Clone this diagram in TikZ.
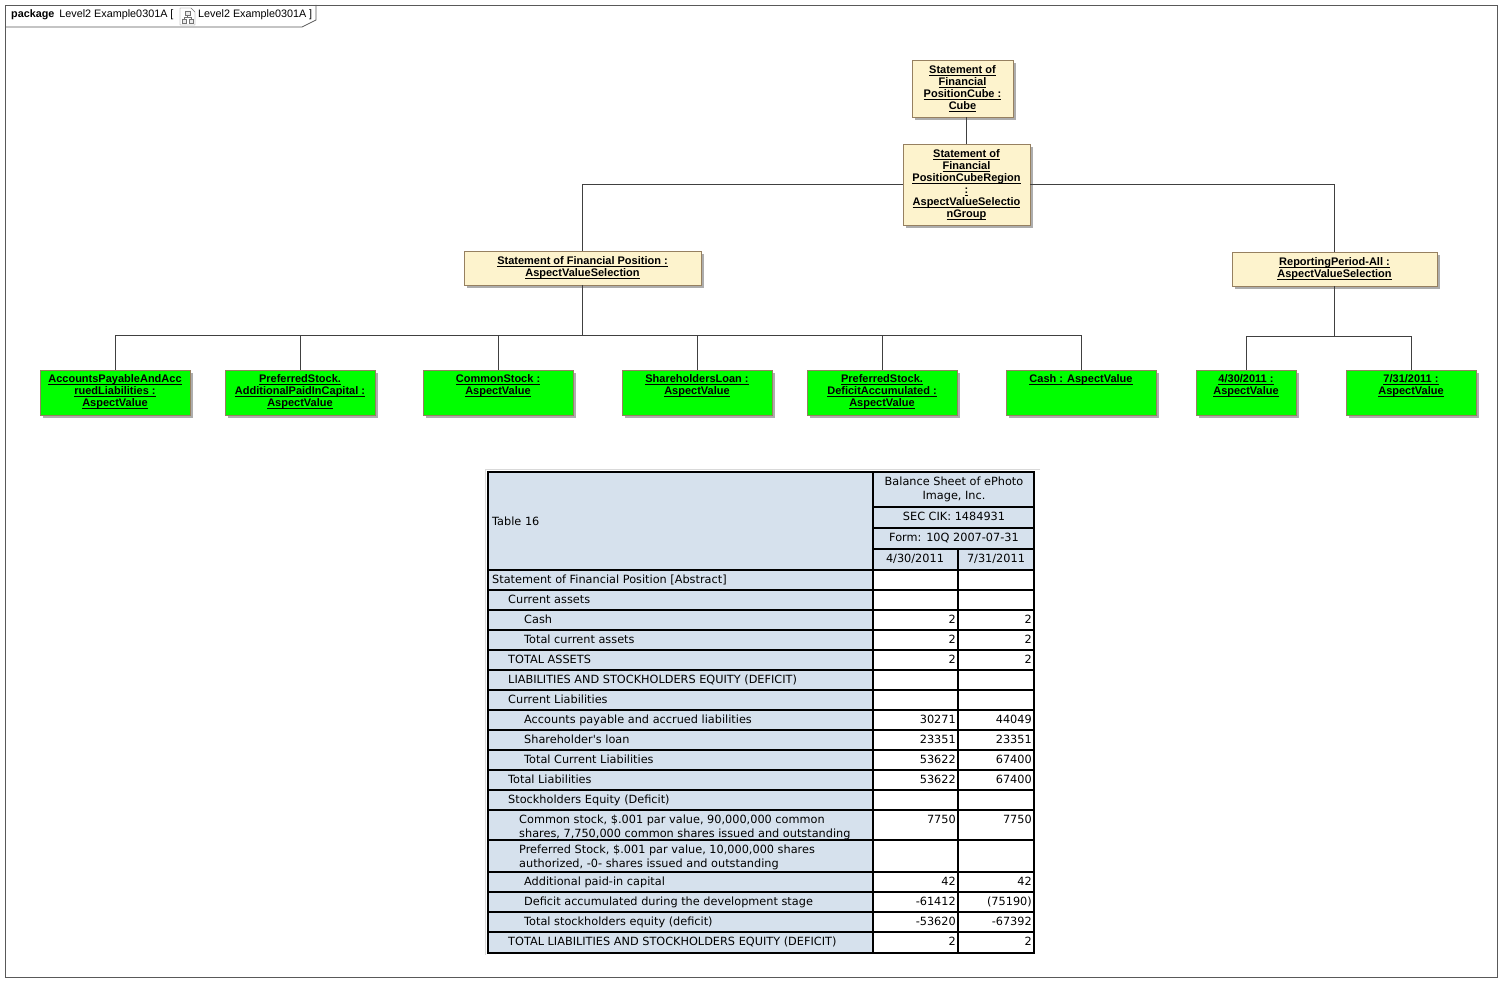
\documentclass[tikz,border=0pt]{standalone}
\usepackage{fontspec}
\setmainfont{Liberation Sans}
\newfontfamily\tablefont{DejaVu Sans}
\usepackage{tikz}
\usetikzlibrary{shadows}
\definecolor{noteyellow}{RGB}{253,243,205}
\definecolor{valuegreen}{RGB}{0,255,0}
\definecolor{boxedge}{RGB}{150,128,96}
\definecolor{cellblue}{RGB}{214,225,237}
\definecolor{linkgrey}{RGB}{64,64,64}
\newsavebox\ulbox
\newcommand{\ul}[1]{\leavevmode\sbox\ulbox{#1}\rlap{\rule[-2pt]{\wd\ulbox}{0.8pt}}\usebox\ulbox}
\newcommand{\gtext}[2][146pt]{\parbox[t][35pt][t]{#1}{\centering #2}}

\begin{document}
\begin{tikzpicture}[
  x=1pt, y=-1pt,
  frame/.style={draw=black!65, line width=0.8pt},
  hdr/.style={font=\fontsize{10.8}{12}\selectfont, inner sep=0pt},
  ybox/.style={draw=boxedge, fill=noteyellow, align=center, inner sep=2pt,
               font=\fontsize{11}{12}\selectfont\bfseries,
               drop shadow={shadow xshift=3pt, shadow yshift=-3pt, fill=black!32, opacity=1}},
  gbox/.style={draw=boxedge, fill=valuegreen, inner sep=0pt, minimum height=45,
               font=\fontsize{11}{12}\selectfont\bfseries,
               drop shadow={shadow xshift=3pt, shadow yshift=-3pt, fill=black!32, opacity=1}},
  link/.style={draw=linkgrey, line width=0.9pt},
  grid/.style={draw=black, line width=2.4pt},
  cell/.style={inner sep=0pt, font=\tablefont\fontsize{11.3}{14}\selectfont}
]
\useasboundingbox (0,0) rectangle (1511,992);
\draw[frame] (5,5) rectangle (1497,977);
\draw[frame] (5,27) -- (302,27) -- (316,20) -- (316,5);
\node[hdr, anchor=base west] (pkg) at (11,18) {\textbf{package}\hspace{5pt}Level2 Example0301A [};
\draw[black!55, fill=white] (180,8) -- (191,8) -- (195,12) -- (195,25) -- (180,25) -- cycle;
\draw[black!55, fill=black!8] (185,11) rectangle (190,15) (182,19) rectangle (186,23) (189,19) rectangle (193,23);
\draw[black!55] (187.5,15) -- (187.5,17) (184,17) -- (191,17) (184,17) -- (184,19) (191,17) -- (191,19);
\node[hdr, anchor=base west] (diag) at (198,18) {Level2 Example0301A ]};

\node[ybox, minimum width=101, minimum height=57] (cube) at (962.5,88.5)
  {\ul{Statement of}\\\ul{Financial}\\\ul{PositionCube :}\\\ul{Cube}};
\node[ybox, minimum width=127, minimum height=81] (region) at (966.5,184.5)
  {\ul{Statement of}\\\ul{Financial}\\\ul{PositionCubeRegion}\\\ul{:}\\\ul{AspectValueSelectio}\\\ul{nGroup}};
\node[ybox, minimum width=237, minimum height=34] (sofp) at (582.5,268)
  {\ul{Statement of Financial Position :}\\\ul{AspectValueSelection}};
\node[ybox, minimum width=205, minimum height=34] (rp) at (1334.5,269)
  {\ul{ReportingPeriod-All :}\\\ul{AspectValueSelection}};

\node[gbox, minimum width=150] (ap) at (115,392.5)
  {\gtext{\ul{AccountsPayableAndAcc}\\\ul{ruedLiabilities :}\\\ul{AspectValue}}};
\node[gbox, minimum width=150] (apic) at (300,392.5)
  {\gtext{\ul{PreferredStock.}\\\ul{AdditionalPaidInCapital :}\\\ul{AspectValue}}};
\node[gbox, minimum width=150] (cs) at (498,392.5)
  {\gtext{\ul{CommonStock :}\\\ul{AspectValue}}};
\node[gbox, minimum width=150] (sl) at (697,392.5)
  {\gtext{\ul{ShareholdersLoan :}\\\ul{AspectValue}}};
\node[gbox, minimum width=150] (da) at (882,392.5)
  {\gtext{\ul{PreferredStock.}\\\ul{DeficitAccumulated :}\\\ul{AspectValue}}};
\node[gbox, minimum width=150] (cash) at (1081,392.5)
  {\gtext{\ul{Cash : AspectValue}}};
\node[gbox, minimum width=100] (d1) at (1246,392.5)
  {\gtext[96pt]{\ul{4/30/2011 :}\\\ul{AspectValue}}};
\node[gbox, minimum width=130] (d2) at (1411,392.5)
  {\gtext[126pt]{\ul{7/31/2011 :}\\\ul{AspectValue}}};

\draw[link] (region.north) -- (region.north |- cube.south);
\draw[link] (region.west) -| (sofp.north);
\draw[link] (region.east) -| (rp.north);
\foreach \n in {ap,apic,cs,sl,da,cash}
  \draw[link] (sofp.south) -- ++(0,50) -| (\n.north);
\foreach \n in {d1,d2}
  \draw[link] (rp.south) -- ++(0,50) -| (\n.north);

\draw[black!15] (1040,469) -- (485,469) -- (485,955);
\fill[cellblue] (488,472) rectangle (873,953);
\fill[cellblue] (873,472) rectangle (1034,570);
\fill[white] (873,570) rectangle (1034,953);
\foreach \ry in {570,590,610,630,650,670,690,710,730,750,770,790,810,840,872,892,912,932}
  \draw[grid] (488,\ry) -- (1034,\ry);
\foreach \ry in {507,528,549}
  \draw[grid] (873,\ry) -- (1034,\ry);
\draw[grid] (873,472) -- (873,953);
\draw[grid] (958,549) -- (958,953);
\draw[grid] (488,472) rectangle (1034,953);

\node[cell, anchor=base west] (tab) at (492,525) {Table 16};
\node[cell, anchor=base] (title) at (954,485)
  {\parbox[t]{150pt}{\centering Balance Sheet of ePhoto\\Image, Inc.}};
\node[cell, anchor=base] (cik) at (954,520) {SEC CIK: 1484931};
\node[cell, anchor=base] (form) at (954,541) {Form: 10Q 2007-07-31};
\node[cell, anchor=base] (p1) at (915,562) {4/30/2011};
\node[cell, anchor=base] (p2) at (996,562) {7/31/2011};

\foreach \ry/\ind/\lab/\va/\vb [count=\i] in {
  570/0/{Statement of Financial Position [Abstract]}//,
  590/16/{Current assets}//,
  610/32/{Cash}/2/2,
  630/32/{Total current assets}/2/2,
  650/16/{TOTAL ASSETS}/2/2,
  670/16/{LIABILITIES AND STOCKHOLDERS EQUITY (DEFICIT)}//,
  690/16/{Current Liabilities}//,
  710/32/{Accounts payable and accrued liabilities}/30271/44049,
  730/32/{Shareholder's loan}/23351/23351,
  750/32/{Total Current Liabilities}/53622/67400,
  770/16/{Total Liabilities}/53622/67400,
  790/16/{Stockholders Equity (Deficit)}//,
  810/27/{\parbox[t]{350pt}{Common stock, \$.001 par value, 90,000,000 common\\shares, 7,750,000 common shares issued and outstanding}}/7750/7750,
  840/27/{\parbox[t]{350pt}{Preferred Stock, \$.001 par value, 10,000,000 shares\\authorized, -0- shares issued and outstanding}}//,
  872/32/{Additional paid-in capital}/42/42,
  892/32/{Deficit accumulated during the development stage}/-61412/{(75190)\hspace{3pt}},
  912/32/{Total stockholders equity (deficit)}/-53620/-67392,
  932/16/{TOTAL LIABILITIES AND STOCKHOLDERS EQUITY (DEFICIT)}/2/2}
{
  \node[cell, anchor=base west] (lab\i) at (492+\ind,\ry+13) {\lab};
  \node[cell, anchor=base east] (va\i) at (956,\ry+13) {\va};
  \node[cell, anchor=base east] (vb\i) at (1032,\ry+13) {\vb};
}
\end{tikzpicture}
\end{document}
